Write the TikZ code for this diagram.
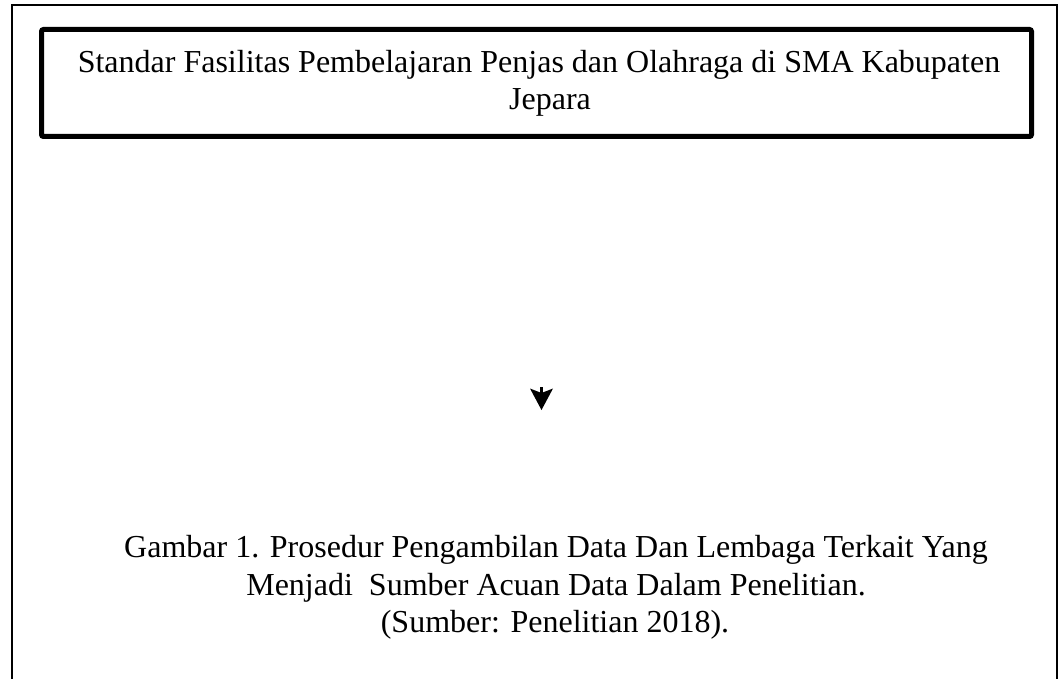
\documentclass[tikz,border=0pt]{standalone}
\usepackage{fontspec}
\setmainfont{Liberation Serif}
\usetikzlibrary{calc}
\begin{document}
\begin{tikzpicture}[x=1pt,y=-1pt,
  frame/.style={line width=1.8pt,draw=black},
  titlebox/.style={line width=5pt,draw=black,rounded corners=2pt},
  txt/.style={inner sep=0pt,anchor=base,font=\fontsize{32}{37}\selectfont},
  tip/.style={fill=black,draw=none}]
\useasboundingbox (0,0) rectangle (1058,679);
\fill[white] (0,0) rectangle (1058,679);
% outer frame (open at bottom)
\draw[frame] (12,690) -- (12,5) -- (1057,5) -- (1057,690);
% title box
\draw[titlebox] (41.5,29.5) rectangle (1031.5,136.5);
\node[txt] (t1) at (539,73) {Standar Fasilitas Pembelajaran Penjas dan Olahraga di SMA Kabupaten};
\node[txt] (t2) at (550,110) {Jepara};
% arrowhead
\coordinate (a0) at (541.5,387);
\coordinate (a1) at (541.5,410);
\draw[line width=3.5pt] (a0) -- ($(a0)!0.4!(a1)$);
\fill[tip] (530,388.5) -- (541.5,393) -- (553,388.5) -- (a1) -- cycle;
% caption
\node[txt] (c1) at (556,557) {Gambar 1. Prosedur Pengambilan Data Dan Lembaga Terkait Yang};
\node[txt] (c2) at (556,595) {Menjadi\ \ Sumber Acuan Data Dalam Penelitian.};
\node[txt] (c3) at (555,632) {(Sumber: Penelitian 2018).};
\end{tikzpicture}
\end{document}
